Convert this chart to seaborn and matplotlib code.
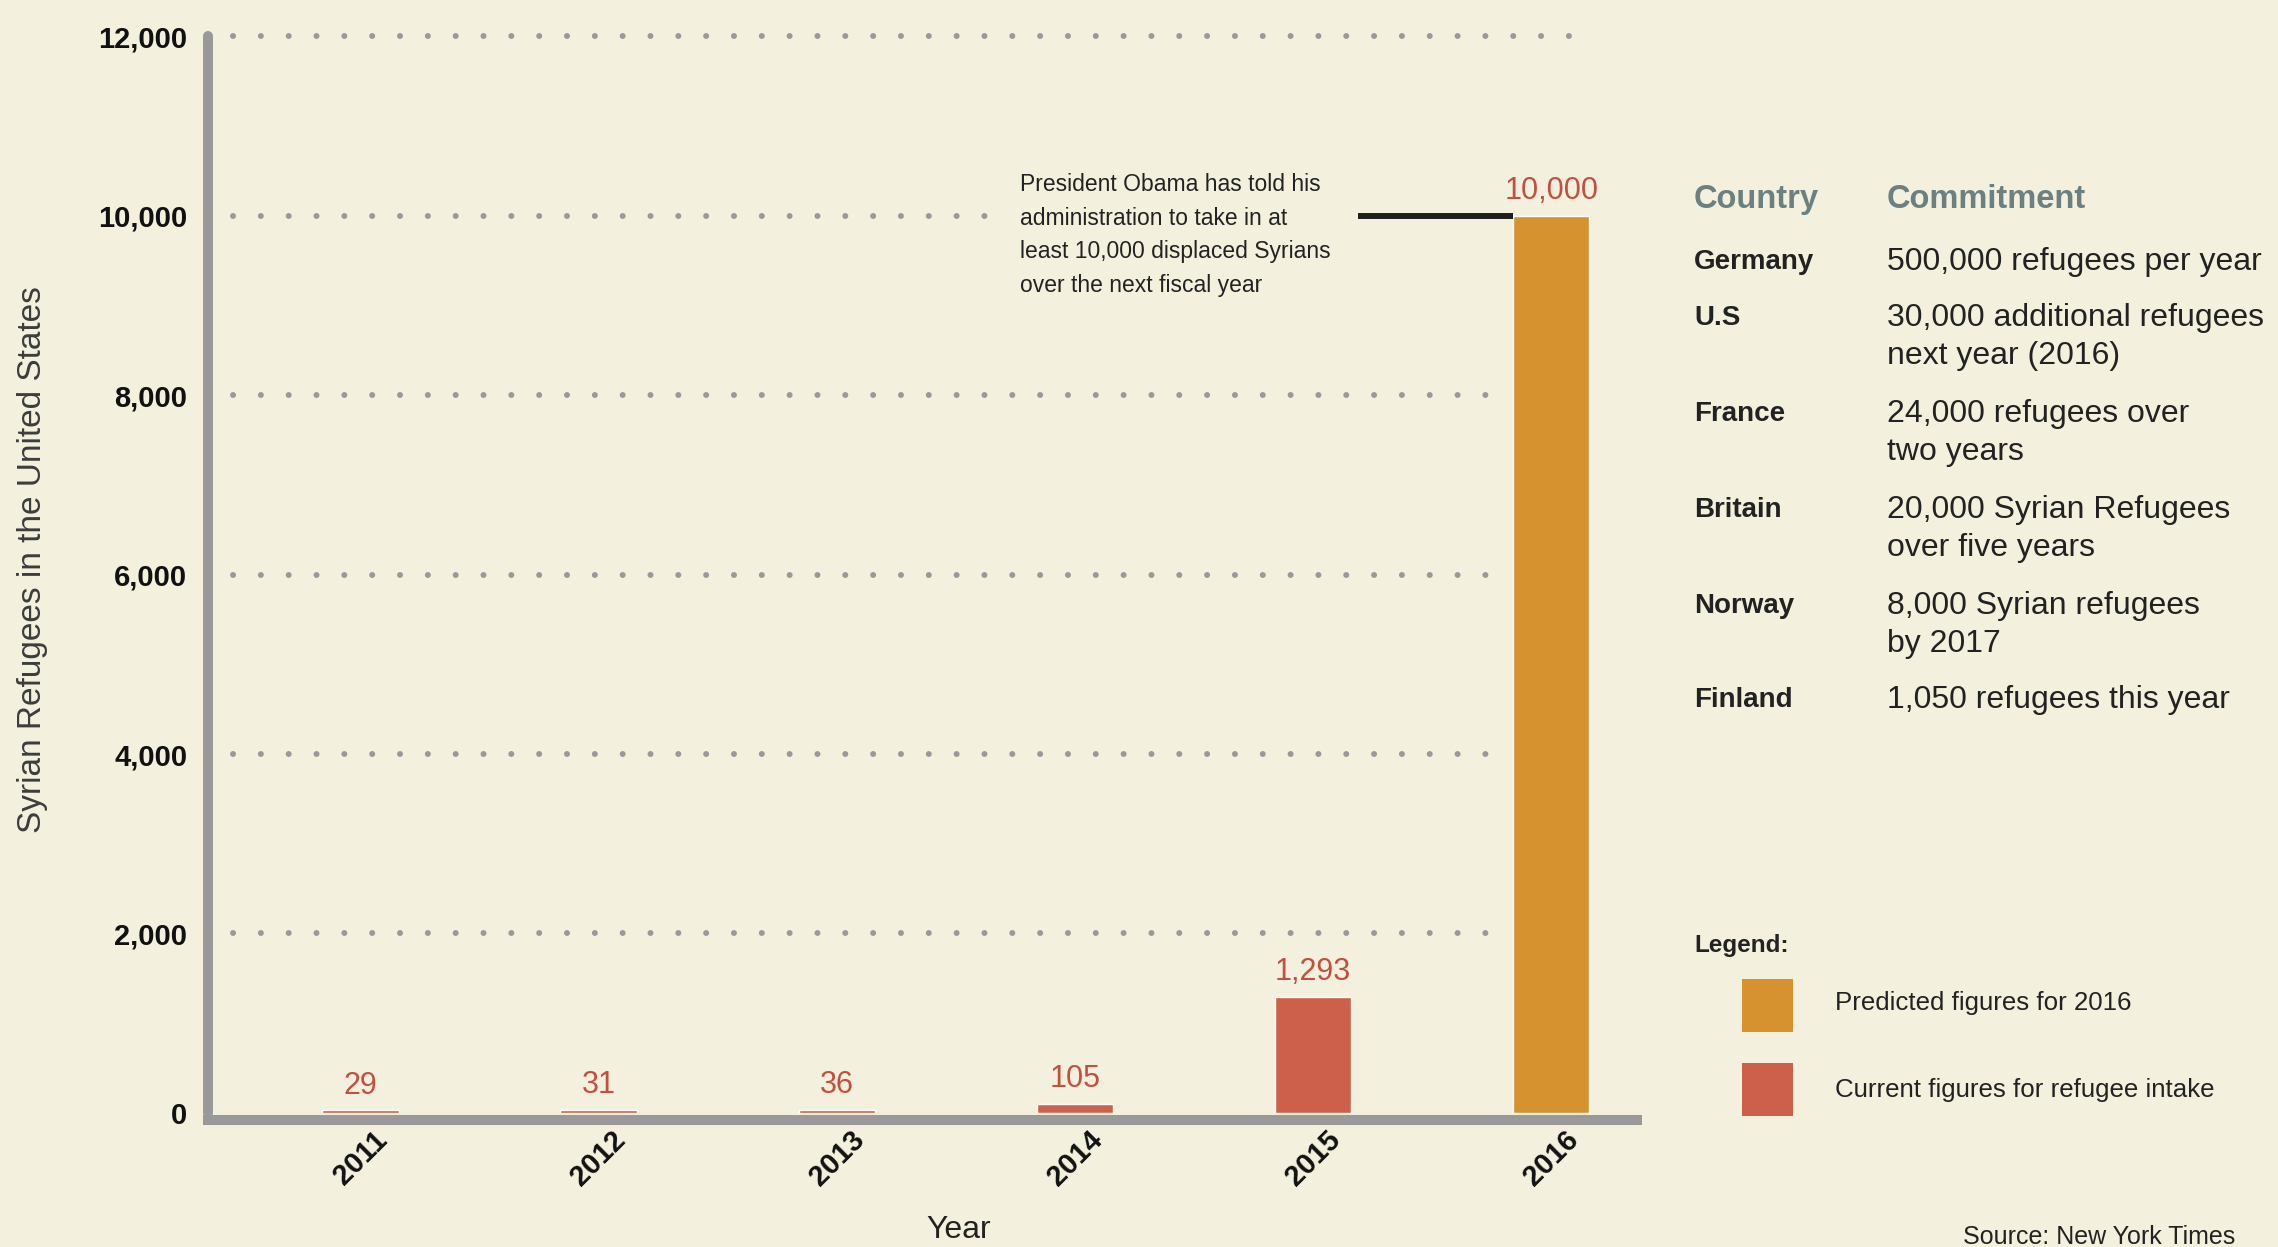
import matplotlib
matplotlib.use("Agg")
import matplotlib.pyplot as plt
from matplotlib.patches import Rectangle
import seaborn as sns
import pandas as pd

# Data
years = ["2011", "2012", "2013", "2014", "2015", "2016"]
refugees = [29, 31, 36, 105, 1293, 10000]
kinds = ["Current", "Current", "Current", "Current", "Current", "Predicted"]
y_ticks = [0, 2000, 4000, 6000, 8000, 10000, 12000]

countries = ["Germany", "U.S", "France", "Britain", "Norway", "Finland"]
commitments = ["500,000 refugees per year",
               "30,000 additional refugees\nnext year (2016)",
               "24,000 refugees over\ntwo years",
               "20,000 Syrian Refugees\nover five years",
               "8,000 Syrian refugees\nby 2017",
               "1,050 refugees this year"]
legend_labels = ["Predicted figures for 2016", "Current figures for refugee intake"]
note = ("President Obama has told his\nadministration to take in at\n"
        "least 10,000 displaced Syrians\nover the next fiscal year")

# Colours
bg = "#f3f1dd"
orange = "#d6922f"
red = "#cc604a"
label_red = "#c24f3f"
grey = "#999999"
header = "#6b8080"
palette = {"Predicted": orange, "Current": red}

sns.set_theme(style="white")
plt.rcParams["font.family"] = ["Liberation Sans", "DejaVu Sans"]

df = pd.DataFrame({"year": years, "refugees": refugees, "kind": kinds})

fig, ax = plt.subplots(figsize=(22.78, 12.47), dpi=100)
fig.patch.set_facecolor(bg)
ax.set_facecolor(bg)
fig.subplots_adjust(left=0.0913, right=0.7186, bottom=0.1075, top=0.971)

sns.barplot(data=df, x="year", y="refugees", hue="kind", palette=palette,
            dodge=False, width=0.32, saturation=1, legend=False, ax=ax, zorder=3)

ax.set_xlim(-0.64, 5.36)
ax.set_ylim(0, 12000)

# dotted gridlines (the lower ones stop at the last bar)
gl = ax.hlines(y_ticks[1:-1], -0.537, 4.84, colors=grey, linewidth=4.3,
               linestyles=[(0, (0.01, 4.65))], zorder=0.5)
gl.set_capstyle("round")
gl_top = ax.hlines(y_ticks[-1], -0.537, 5.17, colors=grey, linewidth=4.3,
                   linestyles=[(0, (0.01, 4.65))], zorder=0.5, clip_on=False)
gl_top.set_capstyle("round")

# value labels
for cont in ax.containers:
    ax.bar_label(cont, fmt="{:,.0f}", padding=7, color=label_red, fontsize=22)

# pointer line to the note
ax.hlines(refugees[-1], 4.19, 4.84, colors="#1e1e1e", linewidth=4.3, zorder=4)

# spines
sns.despine(ax=ax, top=True, right=True)
for side in ["left", "bottom"]:
    ax.spines[side].set_color(grey)
    ax.spines[side].set_linewidth(7.2)
ax.spines["left"].set_capstyle("round")
ax.spines["bottom"].set_capstyle("projecting")
ax.spines["bottom"].set_position(("outward", 5))

ax.set_yticks(y_ticks)
ax.set_yticklabels([f"{v:,}" for v in y_ticks], fontsize=21, fontweight="bold")
ax.tick_params(axis="y", length=5, width=1.5, color=grey, pad=10, labelcolor="#111111")
ax.tick_params(axis="x", length=0, pad=4, labelcolor="#111111")
for lab in ax.get_xticklabels():
    lab.set_rotation(45)
    lab.set_fontsize(21)
    lab.set_fontweight("bold")

ax.set_ylabel("Syrian Refugees in the United States", fontsize=24, color="#3c3c3c")
ax.yaxis.set_label_coords(-0.112, 0.514)
ax.set_xlabel("Year", fontsize=23, color="#222222")
ax.xaxis.set_label_coords(0.5255, -0.095)

# note box
fig.text(0.4478, 0.8116, note, ha="left", va="center", fontsize=16.5,
         color="#222222", linespacing=1.58,
         bbox=dict(boxstyle="square,pad=0.8", facecolor=bg, edgecolor="none"))

# commitments table
fig.text(0.7436, 0.8404, "Country", fontsize=23.5, fontweight="bold",
         color=header, va="center")
fig.text(0.8284, 0.8404, "Commitment", fontsize=23.5, fontweight="bold",
         color=header, va="center")
row_y = [0.7899, 0.7450, 0.6680, 0.5910, 0.5140, 0.4386]
for c, txt, y in zip(countries, commitments, row_y):
    fig.text(0.7436, y, c, fontsize=20, fontweight="bold", color="#222222",
             va="center")
    for i, line in enumerate(txt.split("\n")):
        fig.text(0.8284, y - i * 0.0305, line, fontsize=23, color="#222222",
                 va="center")

# legend
fig.text(0.7436, 0.2414, "Legend:", fontsize=17.5, fontweight="bold",
         color="#222222", va="center")
for col, lab, yb, yt in zip([orange, red], legend_labels, [0.1724, 0.105], [0.1957, 0.1259]):
    fig.add_artist(Rectangle((0.7647, yb), 0.0224, 0.0425, transform=fig.transFigure,
                             facecolor=col, edgecolor="none"))
    fig.text(0.8055, yt, lab, fontsize=18.6, color="#222222", va="center")

fig.text(0.9811, 0.008, "Source: New York Times", fontsize=18, color="#222222",
         ha="right", va="center")

fig.savefig("out.png", dpi=100, facecolor=bg)
